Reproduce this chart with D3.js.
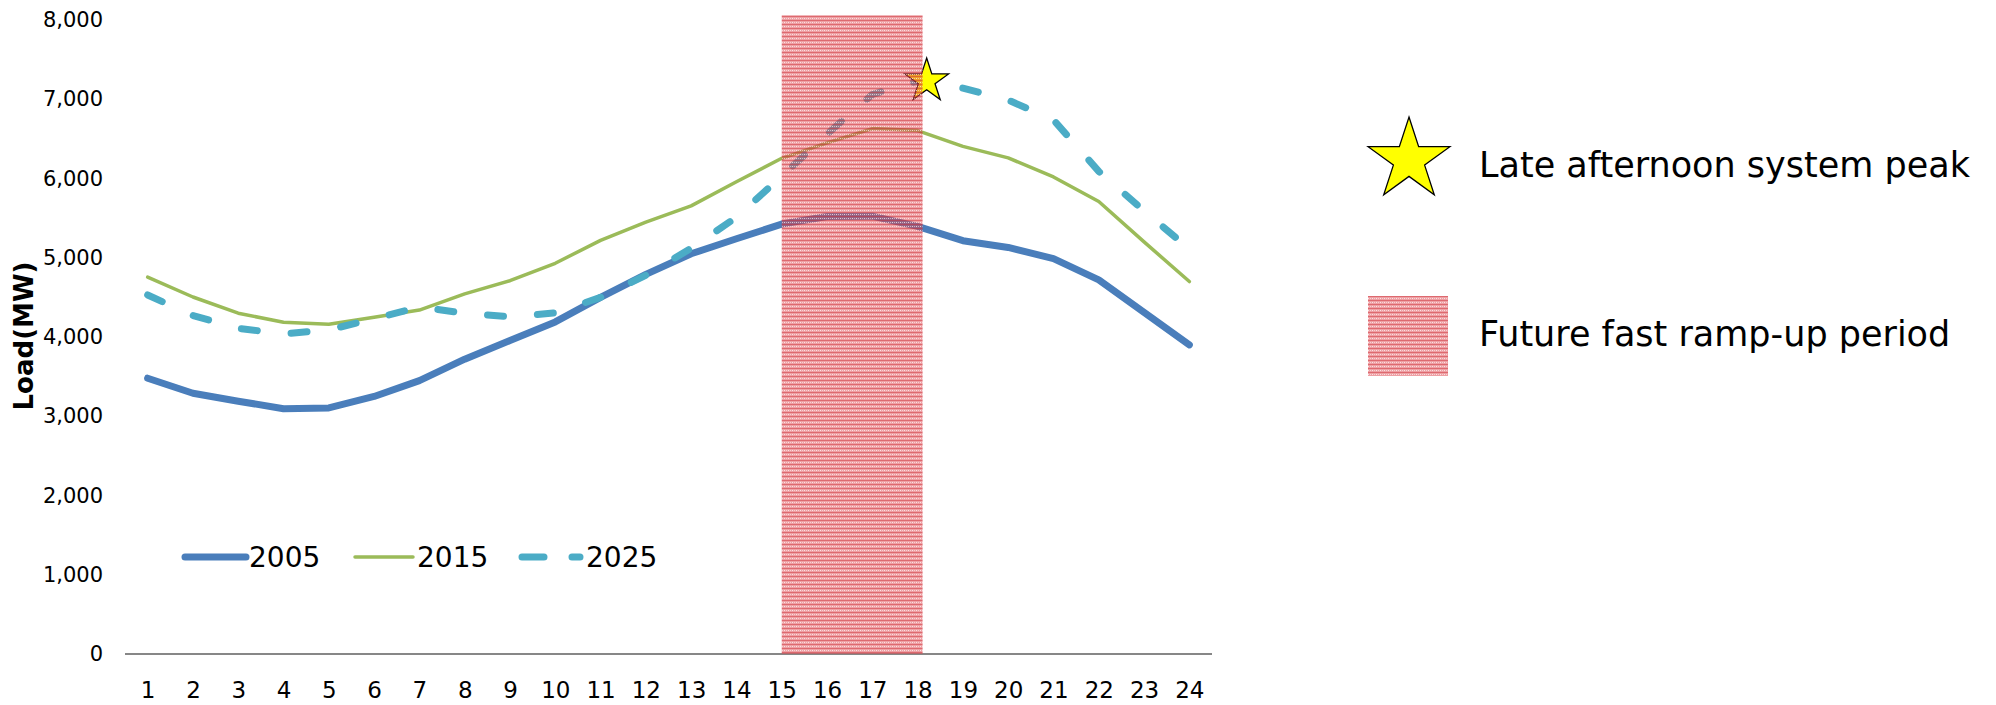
<!DOCTYPE html>
<html>
<head>
<meta charset="utf-8">
<script src="https://cdn.jsdelivr.net/npm/d3@7"></script>
<style>
  html, body { margin: 0; padding: 0; background: #fff; }
  svg { display: block; font-family: "DejaVu Sans", Verdana, sans-serif; }
</style>
</head>
<body>
<svg id="chart" width="1996" height="705"></svg>
<script>
// ---- data ----
const hours = d3.range(1, 25);
const yTicks = [0, 1000, 2000, 3000, 4000, 5000, 6000, 7000, 8000];
const load2005 = [3480, 3290, 3190, 3095, 3105, 3250, 3450, 3720, 3955, 4190, 4500, 4790, 5050, 5240, 5425, 5520, 5525, 5395, 5215, 5130, 4990, 4720, 4310, 3900];
const load2015 = [4755, 4505, 4300, 4185, 4160, 4250, 4340, 4545, 4710, 4930, 5220, 5450, 5655, 5960, 6255, 6450, 6630, 6605, 6405, 6260, 6020, 5710, 5200, 4700];
const load2025 = [4530, 4270, 4110, 4040, 4090, 4230, 4380, 4300, 4255, 4305, 4500, 4780, 5120, 5510, 6030, 6560, 7060, 7230, 7140, 6990, 6740, 6090, 5590, 5110];
const seriesNames = ["2005", "2015", "2025"];
const rampStart = 15, rampEnd = 18.11, rampTop = 8060;
const peakHour = 18.2, peakLoad = 7230;
const legendLabels = ["Late afternoon system peak", "Future fast ramp-up period"];

// ---- layout ----
const svg = d3.select("#chart");
const x = d3.scaleLinear().domain([0.5, 24.5]).range([125, 1212]);
const y = d3.scaleLinear().domain([0, 8000]).range([654, 20]);

// pattern for the ramp-up area
const defs = svg.append("defs");
const pat = defs.append("pattern").attr("id", "hatch")
  .attr("patternUnits", "userSpaceOnUse").attr("width", 4).attr("height", 4);
pat.append("rect").attr("width", 4).attr("height", 4).attr("fill", "#df4a50").attr("opacity", 0.52);
pat.append("rect").attr("width", 4).attr("height", 1).attr("fill", "#c8262e").attr("opacity", 0.45);
pat.append("rect").attr("x", 0).attr("y", 2).attr("width", 1).attr("height", 1).attr("fill", "#ffffff").attr("opacity", 0.7);
pat.append("rect").attr("x", 2).attr("y", 2).attr("width", 1).attr("height", 1).attr("fill", "#ffffff").attr("opacity", 0.5);

// y axis
const yAxis = d3.axisLeft(y).tickValues(yTicks).tickSize(0).tickPadding(0)
  .tickFormat(d3.format(","));
const gy = svg.append("g").attr("transform", "translate(103,0)").call(yAxis);
gy.select(".domain").remove();
gy.selectAll("text").style("font-size", "21px").attr("fill", "#000")
  .style("font-family", "'DejaVu Sans', Verdana, sans-serif");

// x axis
const xAxis = d3.axisBottom(x).tickValues(hours).tickSize(0).tickPadding(0);
const gx = svg.append("g").attr("transform", `translate(0,${y(0)})`).call(xAxis);
gx.select(".domain").attr("stroke", "#878787").attr("stroke-width", 2.2)
  .attr("d", `M${x(0.5)},0H${x(24.5)}`);
gx.selectAll("text").style("font-size", "23px").attr("fill", "#000")
  .style("font-family", "'DejaVu Sans', Verdana, sans-serif")
  .attr("dy", null).attr("y", 44);

// y axis title
svg.append("text").attr("transform", `translate(33,336) rotate(-90)`)
  .attr("text-anchor", "middle")
  .style("font-weight", "bold").style("font-size", "26px")
  .style("font-family", "'DejaVu Sans', Verdana, sans-serif")
  .text("Load(MW)");

// lines
const line = d3.line().x((d, i) => x(hours[i])).y(d => y(d));
const styles = [
  { data: load2005, color: "#4a7ebb", width: 7, dash: null },
  { data: load2015, color: "#9bbb59", width: 3.5, dash: null },
  { data: load2025, color: "#4bacc6", width: 7, dash: "16,34" }
];
styles.forEach(s => {
  svg.append("path").datum(s.data).attr("d", line)
    .attr("fill", "none").attr("stroke", s.color).attr("stroke-width", s.width)
    .attr("stroke-linejoin", "round").attr("stroke-linecap", "round")
    .attr("stroke-dasharray", s.dash);
});

// star helper
function starPath(cx, cy, R) {
  const r = R * 0.382;
  const pts = [];
  for (let i = 0; i < 10; i++) {
    const a = -Math.PI / 2 + i * Math.PI / 5;
    const rr = i % 2 === 0 ? R : r;
    pts.push([cx + rr * Math.cos(a), cy + rr * Math.sin(a)]);
  }
  return "M" + pts.map(p => p.join(",")).join("L") + "Z";
}

// peak star
svg.append("path").attr("d", starPath(x(peakHour), y(peakLoad), 23))
  .attr("fill", "#ffff00").attr("stroke", "#000").attr("stroke-width", 1.3);

// ramp-up rectangle on top
svg.append("rect").attr("x", x(rampStart)).attr("y", y(rampTop))
  .attr("width", x(rampEnd) - x(rampStart)).attr("height", y(0) - y(rampTop))
  .attr("fill", "url(#hatch)");

// bottom legend
const lg = svg.append("g");
const legendItems = [
  { x1: 185, x2: 246, tx: 249, s: styles[0], name: seriesNames[0] },
  { x1: 355, x2: 413, tx: 417, s: styles[1], name: seriesNames[1] },
  { x1: 522, x2: 580, tx: 586, s: styles[2], name: seriesNames[2] }
];
legendItems.forEach(it => {
  lg.append("line").attr("x1", it.x1).attr("x2", it.x2).attr("y1", 557).attr("y2", 557)
    .attr("stroke", it.s.color).attr("stroke-width", it.s.width)
    .attr("stroke-linecap", "round")
    .attr("stroke-dasharray", it.s.dash ? "22,28" : null);
  lg.append("text").attr("x", it.tx).attr("y", 567).style("font-size", "28px").text(it.name);
});

// right legend
svg.append("path").attr("d", starPath(1409, 160, 43))
  .attr("fill", "#ffff00").attr("stroke", "#000").attr("stroke-width", 1.3);
svg.append("text").attr("x", 1479).attr("y", 177).style("font-size", "35px").text(legendLabels[0]);
svg.append("rect").attr("x", 1368).attr("y", 296).attr("width", 80).attr("height", 80)
  .attr("fill", "url(#hatch)");
svg.append("text").attr("x", 1479).attr("y", 346).style("font-size", "35px").text(legendLabels[1]);
</script>
</body>
</html>
